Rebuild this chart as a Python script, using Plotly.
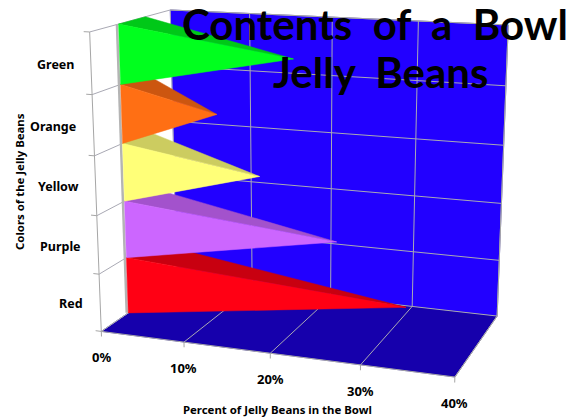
import numpy as np
import plotly.graph_objects as go

# Jelly bean counts, bottom row first
categories = ["Red", "Purple", "Yellow", "Orange", "Green"]
percents = [32, 24, 15, 10, 19]
face_colors = ["#FF0014", "#CC66FF", "#FFFF78", "#FF6F14", "#00FF1E"]
top_colors = ["#C80010", "#A352CC", "#CCCC60", "#CC5610", "#00C818"]
pct_ticks = [0, 10, 20, 30, 40]
pct_labels = ["0%", "10%", "20%", "30%", "40%"]

# Perspective camera: (percent, depth 0..1, category position 0..5) -> page pixels
CAMERA = np.array([
    [7.87934, 95.6487, -3.31601, 101.293],
    [0.344656, -19.6387, -60.2433, 331.416],
    [-0.00211042, 0.114555, -0.0110303, 1.0],
])
BAR_FRONT, BAR_BACK = 1 / 3, 2 / 3
PCT_MAX = pct_ticks[-1]
N_ROWS = len(categories)

WALL = "#2200FF"
FLOOR = "#1600AC"
GRID = "#A9A9B4"
EDGE = "#A6A6A6"
LABEL_FONT = "Noto Sans"


def project(points):
    homog = CAMERA @ np.c_[np.asarray(points, float), np.ones(len(points))].T
    return homog[0] / homog[2], homog[1] / homog[2]


fig = go.Figure()


def polygon(points, color):
    x, y = project(points)
    fig.add_trace(go.Scatter(
        x=np.r_[x, x[0]], y=np.r_[y, y[0]], mode="lines", fill="toself",
        fillcolor=color, line=dict(color=color, width=0.5), hoverinfo="skip",
    ))


def segment(a, b, color=GRID, width=1):
    x, y = project([a, b])
    fig.add_trace(go.Scatter(
        x=x, y=y, mode="lines", line=dict(color=color, width=width), hoverinfo="skip",
    ))


# Walls and floor
polygon([(0, 1, 0), (PCT_MAX, 1, 0), (PCT_MAX, 1, N_ROWS), (0, 1, N_ROWS)], WALL)
polygon([(0, 0, 0), (PCT_MAX, 0, 0), (PCT_MAX, 1, 0), (0, 1, 0)], FLOOR)

# Grid on the walls and floor, with tick stubs along the front edges
for pct in pct_ticks:
    segment((pct, 0, 0), (pct, 1, 0))
    segment((pct, 1, 0), (pct, 1, N_ROWS))
    segment((pct, 0, 0), (pct, 0, -0.09), EDGE)
for row in range(N_ROWS + 1):
    segment((0, 0, row), (0, 1, row))
    segment((0, 1, row), (PCT_MAX, 1, row))
    segment((0, 0, row), (-0.7, 0, row), EDGE)
segment((0, 0, 0), (0, 0, N_ROWS), EDGE)
segment((0, 0, 0), (PCT_MAX, 0, 0), EDGE)
segment((PCT_MAX, 0, 0), (PCT_MAX, 1, 0), EDGE)
segment((PCT_MAX, 1, 0), (PCT_MAX, 1, N_ROWS), EDGE)
segment((0, 1, N_ROWS), (PCT_MAX, 1, N_ROWS), EDGE)

# Pyramid bars lying on their sides, lowest row first so upper rows overlap it
segment((-0.2, BAR_FRONT, 0), (-0.2, BAR_FRONT, N_ROWS), "#B4B4B4", 2.5)
for row, value in enumerate(percents):
    mid = (BAR_FRONT + BAR_BACK) / 2
    apex = (value, mid, row + 0.5)
    polygon([(0, BAR_FRONT, row + 1), (0, BAR_BACK, row + 1), apex], top_colors[row])
    polygon([(0, BAR_FRONT, row), (0, BAR_FRONT, row + 1), apex], face_colors[row])

annotations = []
lx, ly = project([(0, 0, row + 0.5) for row in range(N_ROWS)])
for name, x, y in zip(categories, lx, ly):
    annotations.append(dict(
        x=x - 15, y=y + 1, text=name, xanchor="right", yanchor="middle", showarrow=False,
        font=dict(family=LABEL_FONT, size=12.5, color="black", weight="bold"),
    ))
tx, ty = project([(pct, 0, 0) for pct in pct_ticks])
for text, x, y in zip(pct_labels, tx, ty):
    annotations.append(dict(
        x=x, y=y + 26, text=text, xanchor="center", yanchor="middle", showarrow=False,
        font=dict(family=LABEL_FONT, size=13, color="black", weight="bold"),
    ))
annotations.append(dict(
    x=277, y=409, text="Percent of Jelly Beans in the Bowl", xanchor="center", yanchor="middle",
    showarrow=False, font=dict(family=LABEL_FONT, size=11.4, color="black", weight="bold"),
))
annotations.append(dict(
    x=19, y=182, text="Colors of the Jelly Beans", textangle=-90, xanchor="center", yanchor="middle",
    showarrow=False, font=dict(family=LABEL_FONT, size=11.4, color="black", weight="bold"),
))
annotations.append(dict(
    x=375, y=24, text="Contents\u00a0 of\u00a0 a\u00a0 Bowl", xanchor="center", yanchor="middle", showarrow=False,
    font=dict(family="Lato", size=42, color="black", weight="bold"),
))
annotations.append(dict(
    x=380, y=72, text="Jelly\u00a0 Beans", xanchor="center", yanchor="middle", showarrow=False,
    font=dict(family="Lato", size=42, color="black", weight="bold"),
))

fig.update_layout(
    width=579, height=417, margin=dict(l=0, r=0, t=0, b=0),
    paper_bgcolor="white", plot_bgcolor="white", showlegend=False,
    xaxis=dict(visible=False, range=[0, 579], fixedrange=True),
    yaxis=dict(visible=False, range=[417, 0], fixedrange=True),
    annotations=annotations,
)
fig.write_html("out.html", config=dict(displayModeBar=False))
